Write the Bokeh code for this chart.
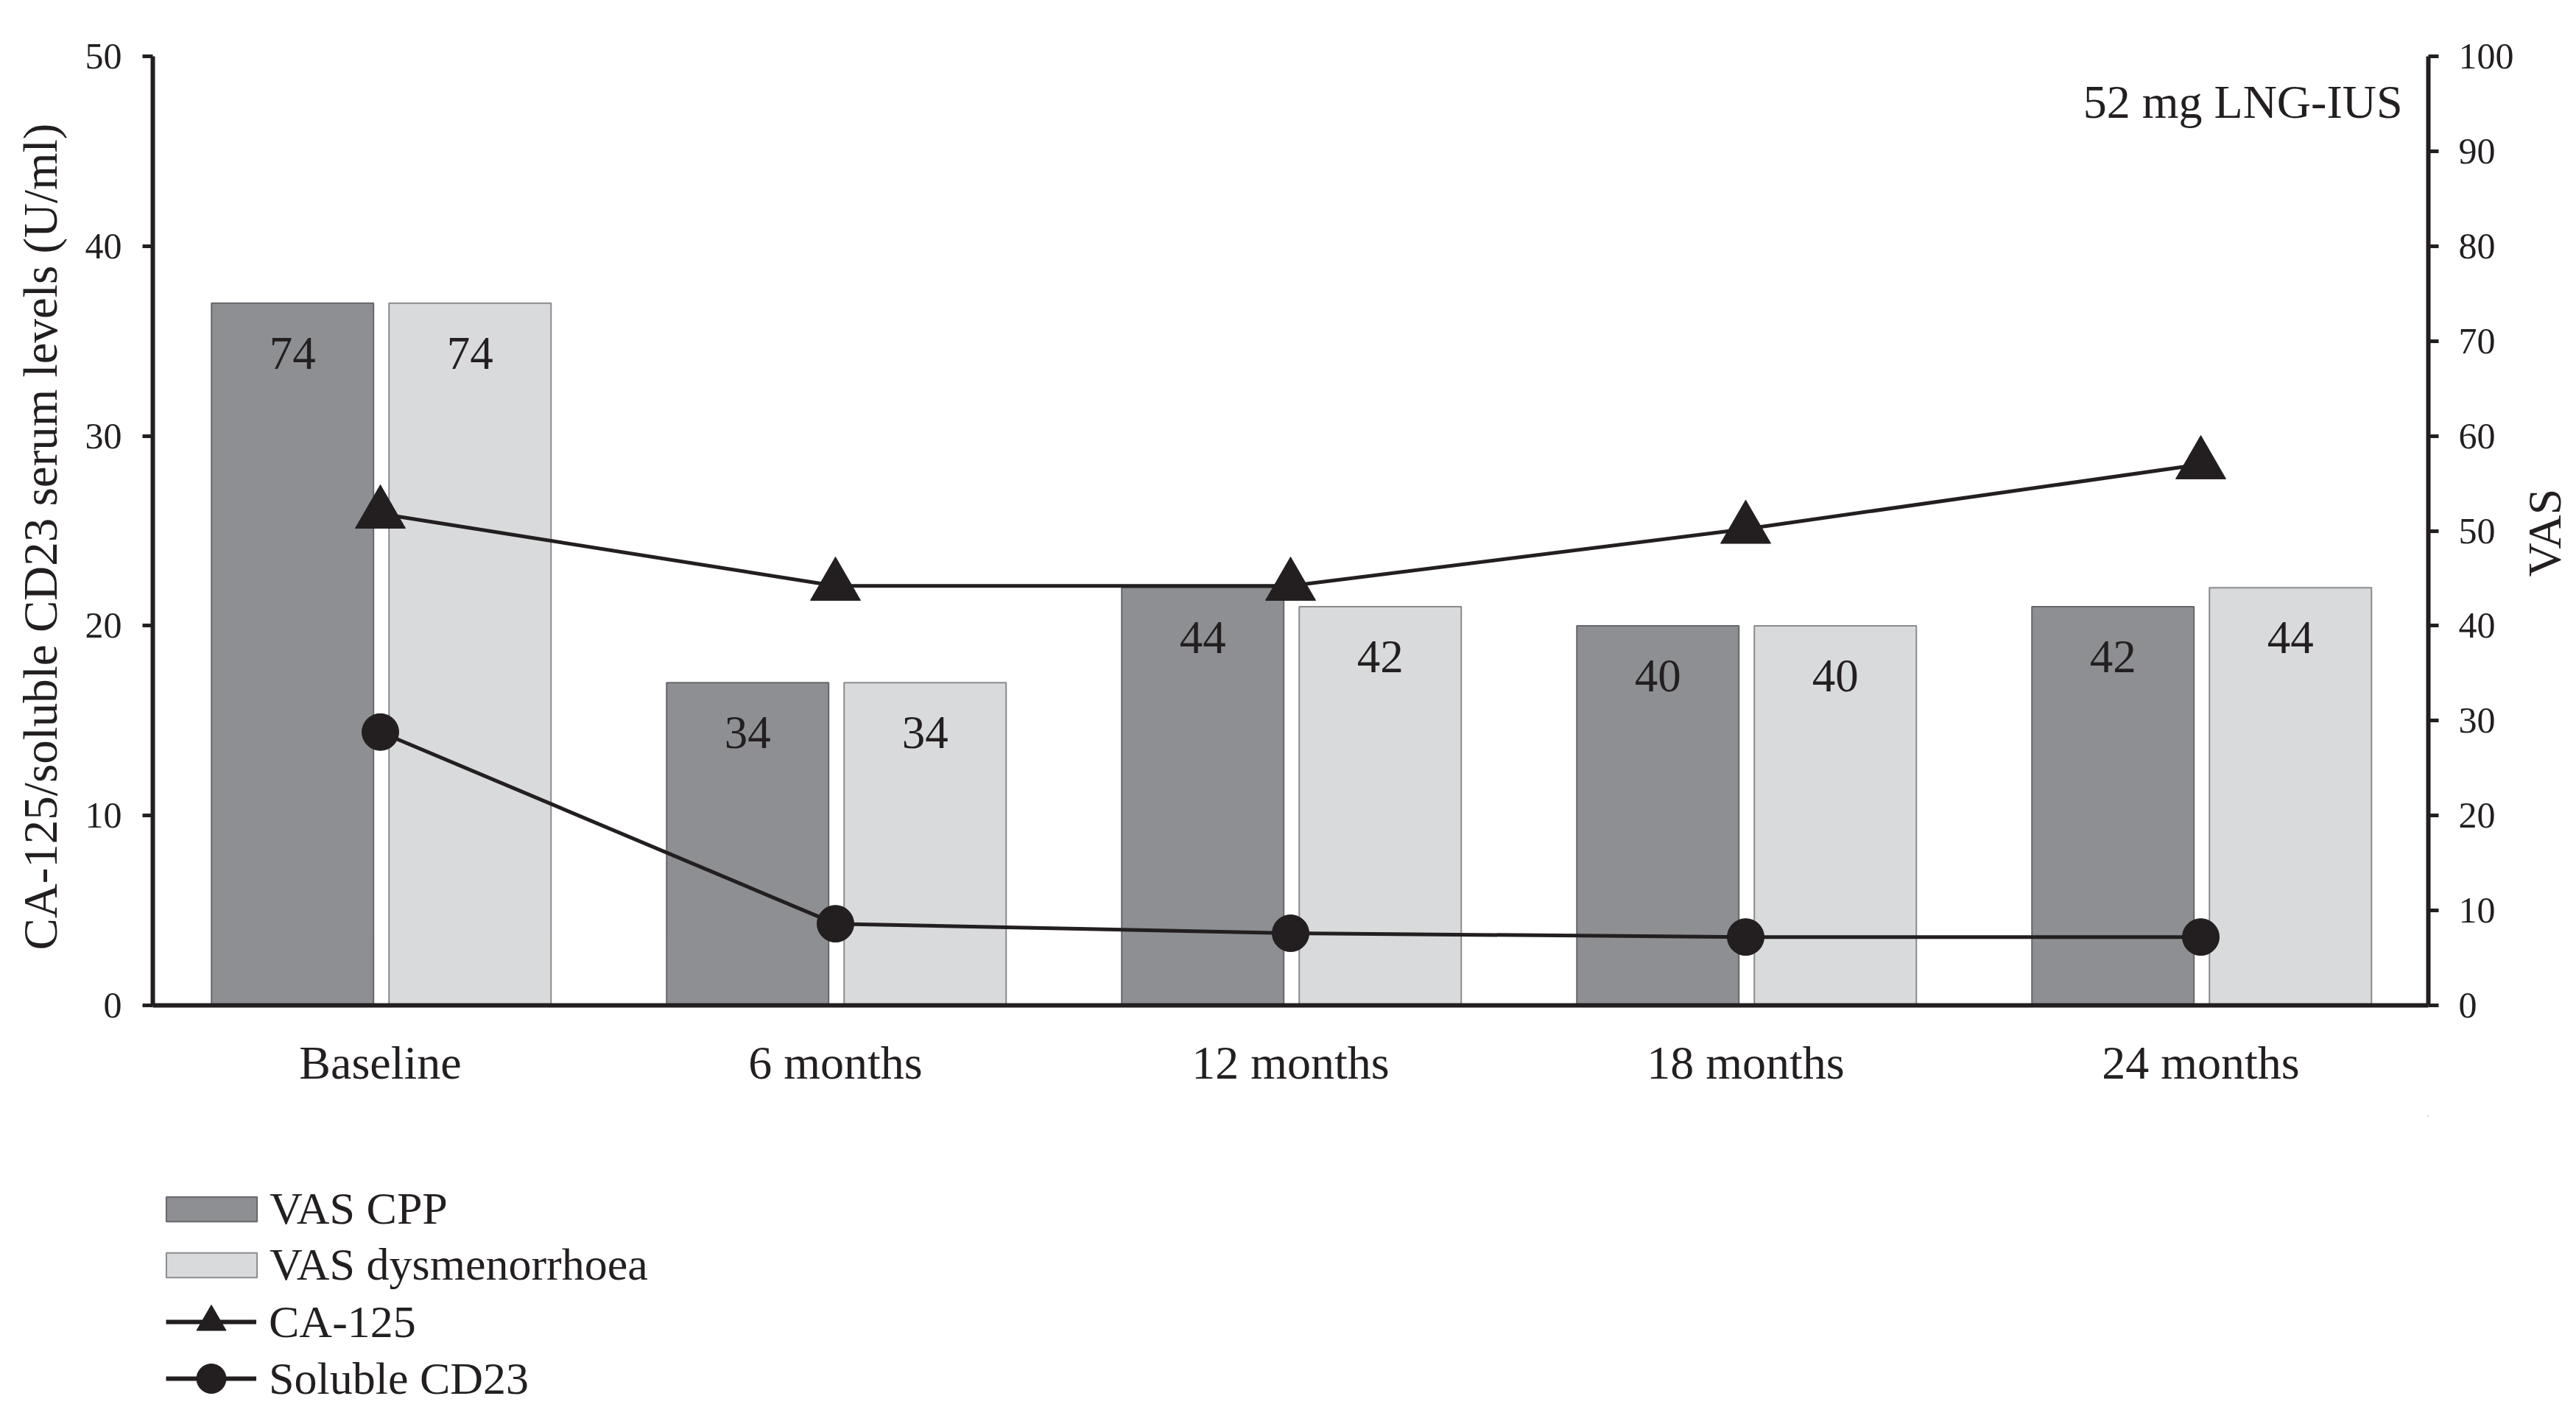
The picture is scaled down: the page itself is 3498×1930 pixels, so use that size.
import math
from bokeh.plotting import figure
from bokeh.layouts import column, row
from bokeh.models import (ColumnDataSource, FactorRange, Range1d, LinearAxis, FixedTicker,
                          Legend, LegendItem, Label)
from bokeh.transform import dodge
from bokeh.core.properties import value
from bokeh.embed import file_html
from bokeh.resources import INLINE

# ---------------- data ----------------
categories = ["Baseline", "6 months", "12 months", "18 months", "24 months"]
vas_cpp = [74, 34, 44, 40, 42]
vas_dys = [74, 34, 42, 40, 44]
ca125 = [25.9, 22.1, 22.1, 25.1, 28.5]
cd23 = [14.4, 4.3, 3.8, 3.6, 3.6]
left_ticks = [0, 10, 20, 30, 40, 50]
right_ticks = [0, 10, 20, 30, 40, 50, 60, 70, 80, 90, 100]

FONT = "Liberation Serif"
INK = "#231f20"
DARK = "#8e8f93"
DARK_EDGE = "#66676b"
LIGHT = "#d9dadc"
LIGHT_EDGE = "#8a8b8e"

src = ColumnDataSource(dict(
    cat=categories,
    cpp=vas_cpp,
    dys=vas_dys,
    cpp_txt=[str(v) for v in vas_cpp],
    dys_txt=[str(v) for v in vas_dys],
    ca=ca125,
    cd=cd23,
))

LEFT_B, FW, FH, TOP_B, BOT_B = 207, 3090, 1289, 76, 150

p = figure(
    x_range=FactorRange(*categories, range_padding=0),
    y_range=Range1d(0, 50),
    frame_width=FW, frame_height=FH,
    min_border_left=LEFT_B, min_border_right=116, min_border_top=TOP_B, min_border_bottom=BOT_B,
    output_backend="svg", toolbar_location=None,
)
p.extra_y_ranges = {"vas": Range1d(0, 100)}
p.outline_line_color = None
p.xgrid.grid_line_color = None
p.ygrid.grid_line_color = None

# ---------------- bars ----------------
p.vbar(x=dodge("cat", -0.193, range=p.x_range), top="cpp", width=0.356, bottom=0,
       source=src, y_range_name="vas", fill_color=DARK, line_color=DARK_EDGE, line_width=2)
p.vbar(x=dodge("cat", 0.197, range=p.x_range), top="dys", width=0.356, bottom=0,
       source=src, y_range_name="vas", fill_color=LIGHT, line_color=LIGHT_EDGE, line_width=2)

p.text(x=dodge("cat", -0.193, range=p.x_range), y="cpp", text="cpp_txt", source=src, y_range_name="vas",
       text_align="center", text_baseline="alphabetic", y_offset=68,
       text_font=value(FONT), text_font_size="63px", text_color=INK)
p.text(x=dodge("cat", 0.197, range=p.x_range), y="dys", text="dys_txt", source=src, y_range_name="vas",
       text_align="center", text_baseline="alphabetic", y_offset=68,
       text_font=value(FONT), text_font_size="63px", text_color=INK)

# ---------------- lines ----------------
p.line(x="cat", y="ca", source=src, line_color=INK, line_width=5)
p.scatter(x="cat", y="ca", source=src, marker="triangle", size=68, fill_color=INK, line_color=INK)
p.line(x="cat", y="cd", source=src, line_color=INK, line_width=5)
p.scatter(x="cat", y="cd", source=src, marker="circle", size=50, fill_color=INK, line_color=INK)

# ---------------- axes ----------------
def style_axis(ax, ticks):
    ax.ticker = FixedTicker(ticks=ticks)
    ax.axis_line_width = 6
    ax.axis_line_color = INK
    ax.major_tick_in = 0
    ax.major_tick_out = 14
    ax.major_tick_line_width = 5
    ax.major_tick_line_color = INK
    ax.minor_tick_line_color = None
    ax.major_label_text_font = FONT
    ax.major_label_text_font_size = "50px"
    ax.major_label_text_color = INK
    ax.axis_label_text_font = FONT
    ax.axis_label_text_font_size = "65px"
    ax.axis_label_text_font_style = "normal"
    ax.axis_label_text_color = INK

yl = p.yaxis[0]
style_axis(yl, left_ticks)
yl.major_label_standoff = 28
yl.axis_label = "CA-125/soluble CD23 serum  levels (U/ml)"
yl.axis_label_standoff = 22

yr = LinearAxis(y_range_name="vas")
style_axis(yr, right_ticks)
yr.major_label_standoff = 27
p.add_layout(yr, "right")

xa = p.xaxis[0]
xa.axis_line_width = 6
xa.axis_line_color = INK
xa.major_tick_line_color = None
xa.major_tick_out = 0
xa.major_tick_in = 0
xa.minor_tick_line_color = None
xa.major_label_text_font = FONT
xa.major_label_text_font_size = "64px"
xa.major_label_text_color = INK
xa.major_label_standoff = 42

# ---------------- annotation ----------------
p.add_layout(Label(x=5, y=50, x_offset=-35, y_offset=-62, text="52 mg LNG-IUS",
                   text_align="right", text_baseline="alphabetic",
                   text_font=FONT, text_font_size="64px", text_color=INK))

# ---------------- right-hand title strip ("VAS", reads bottom-to-top) ----------------
r = figure(
    x_range=Range1d(0, 1), y_range=Range1d(0, 100),
    frame_width=80, frame_height=FH,
    min_border_left=0, min_border_right=0, min_border_top=TOP_B, min_border_bottom=BOT_B,
    x_axis_location=None, y_axis_location=None,
    output_backend="svg", toolbar_location=None,
)
r.outline_line_color = None
r.xgrid.grid_line_color = None
r.ygrid.grid_line_color = None
r.add_layout(Label(x=0.5, y=49.8, x_offset=-1, text="VAS", angle=math.pi / 2,
                   text_align="center", text_baseline="middle",
                   text_font=FONT, text_font_size="64px", text_color=INK))

# ---------------- legend panel (separate figure below) ----------------
q = figure(
    x_range=Range1d(0, 1), y_range=Range1d(0, 1),
    frame_width=FW, frame_height=410,
    min_border_left=LEFT_B, min_border_right=190, min_border_top=0, min_border_bottom=0,
    x_axis_location=None, y_axis_location=None,
    output_backend="svg", toolbar_location=None,
)
q.outline_line_color = None
q.xgrid.grid_line_color = None
q.ygrid.grid_line_color = None

# legend proxies: one point each, kept outside the visible range
g_dark = q.vbar(x=[5], top=[6], bottom=[5], width=0.1, fill_color=DARK, line_color=DARK_EDGE, line_width=2)
g_light = q.vbar(x=[5], top=[6], bottom=[5], width=0.1, fill_color=LIGHT, line_color=LIGHT_EDGE, line_width=2)
g_ca_l = q.line(x=[5, 6], y=[5, 5], line_color=INK, line_width=6)
g_ca_m = q.scatter(x=[5], y=[5], marker="triangle", fill_color=INK, line_color=INK)
g_cd_l = q.line(x=[5, 6], y=[5, 5], line_color=INK, line_width=6)
g_cd_m = q.scatter(x=[5], y=[5], marker="circle", fill_color=INK, line_color=INK)

def make_legend(label, renderers, loc, gw, gh, standoff):
    lg = Legend(items=[LegendItem(label=label, renderers=renderers, index=0)], location=loc,
                glyph_width=gw, glyph_height=gh, label_standoff=standoff,
                label_text_font=FONT, label_text_font_size="62px", label_text_color=INK,
                padding=0, margin=0, spacing=0, border_line_color=None,
                background_fill_alpha=0)
    q.add_layout(lg, "center")

make_legend("VAS CPP", [g_dark], (3, 248), 154, 42, 2)
make_legend("VAS dysmenorrhoea", [g_light], (3, 172), 154, 42, 2)
make_legend("CA-125", [g_ca_l, g_ca_m], (18, 80), 123, 100, 17)
make_legend("Soluble CD23", [g_cd_l, g_cd_m], (18, 3), 123, 100, 17)

layout = column(row(p, r, spacing=0), q, spacing=0)
open("out.html", "w").write(file_html(layout, INLINE))
